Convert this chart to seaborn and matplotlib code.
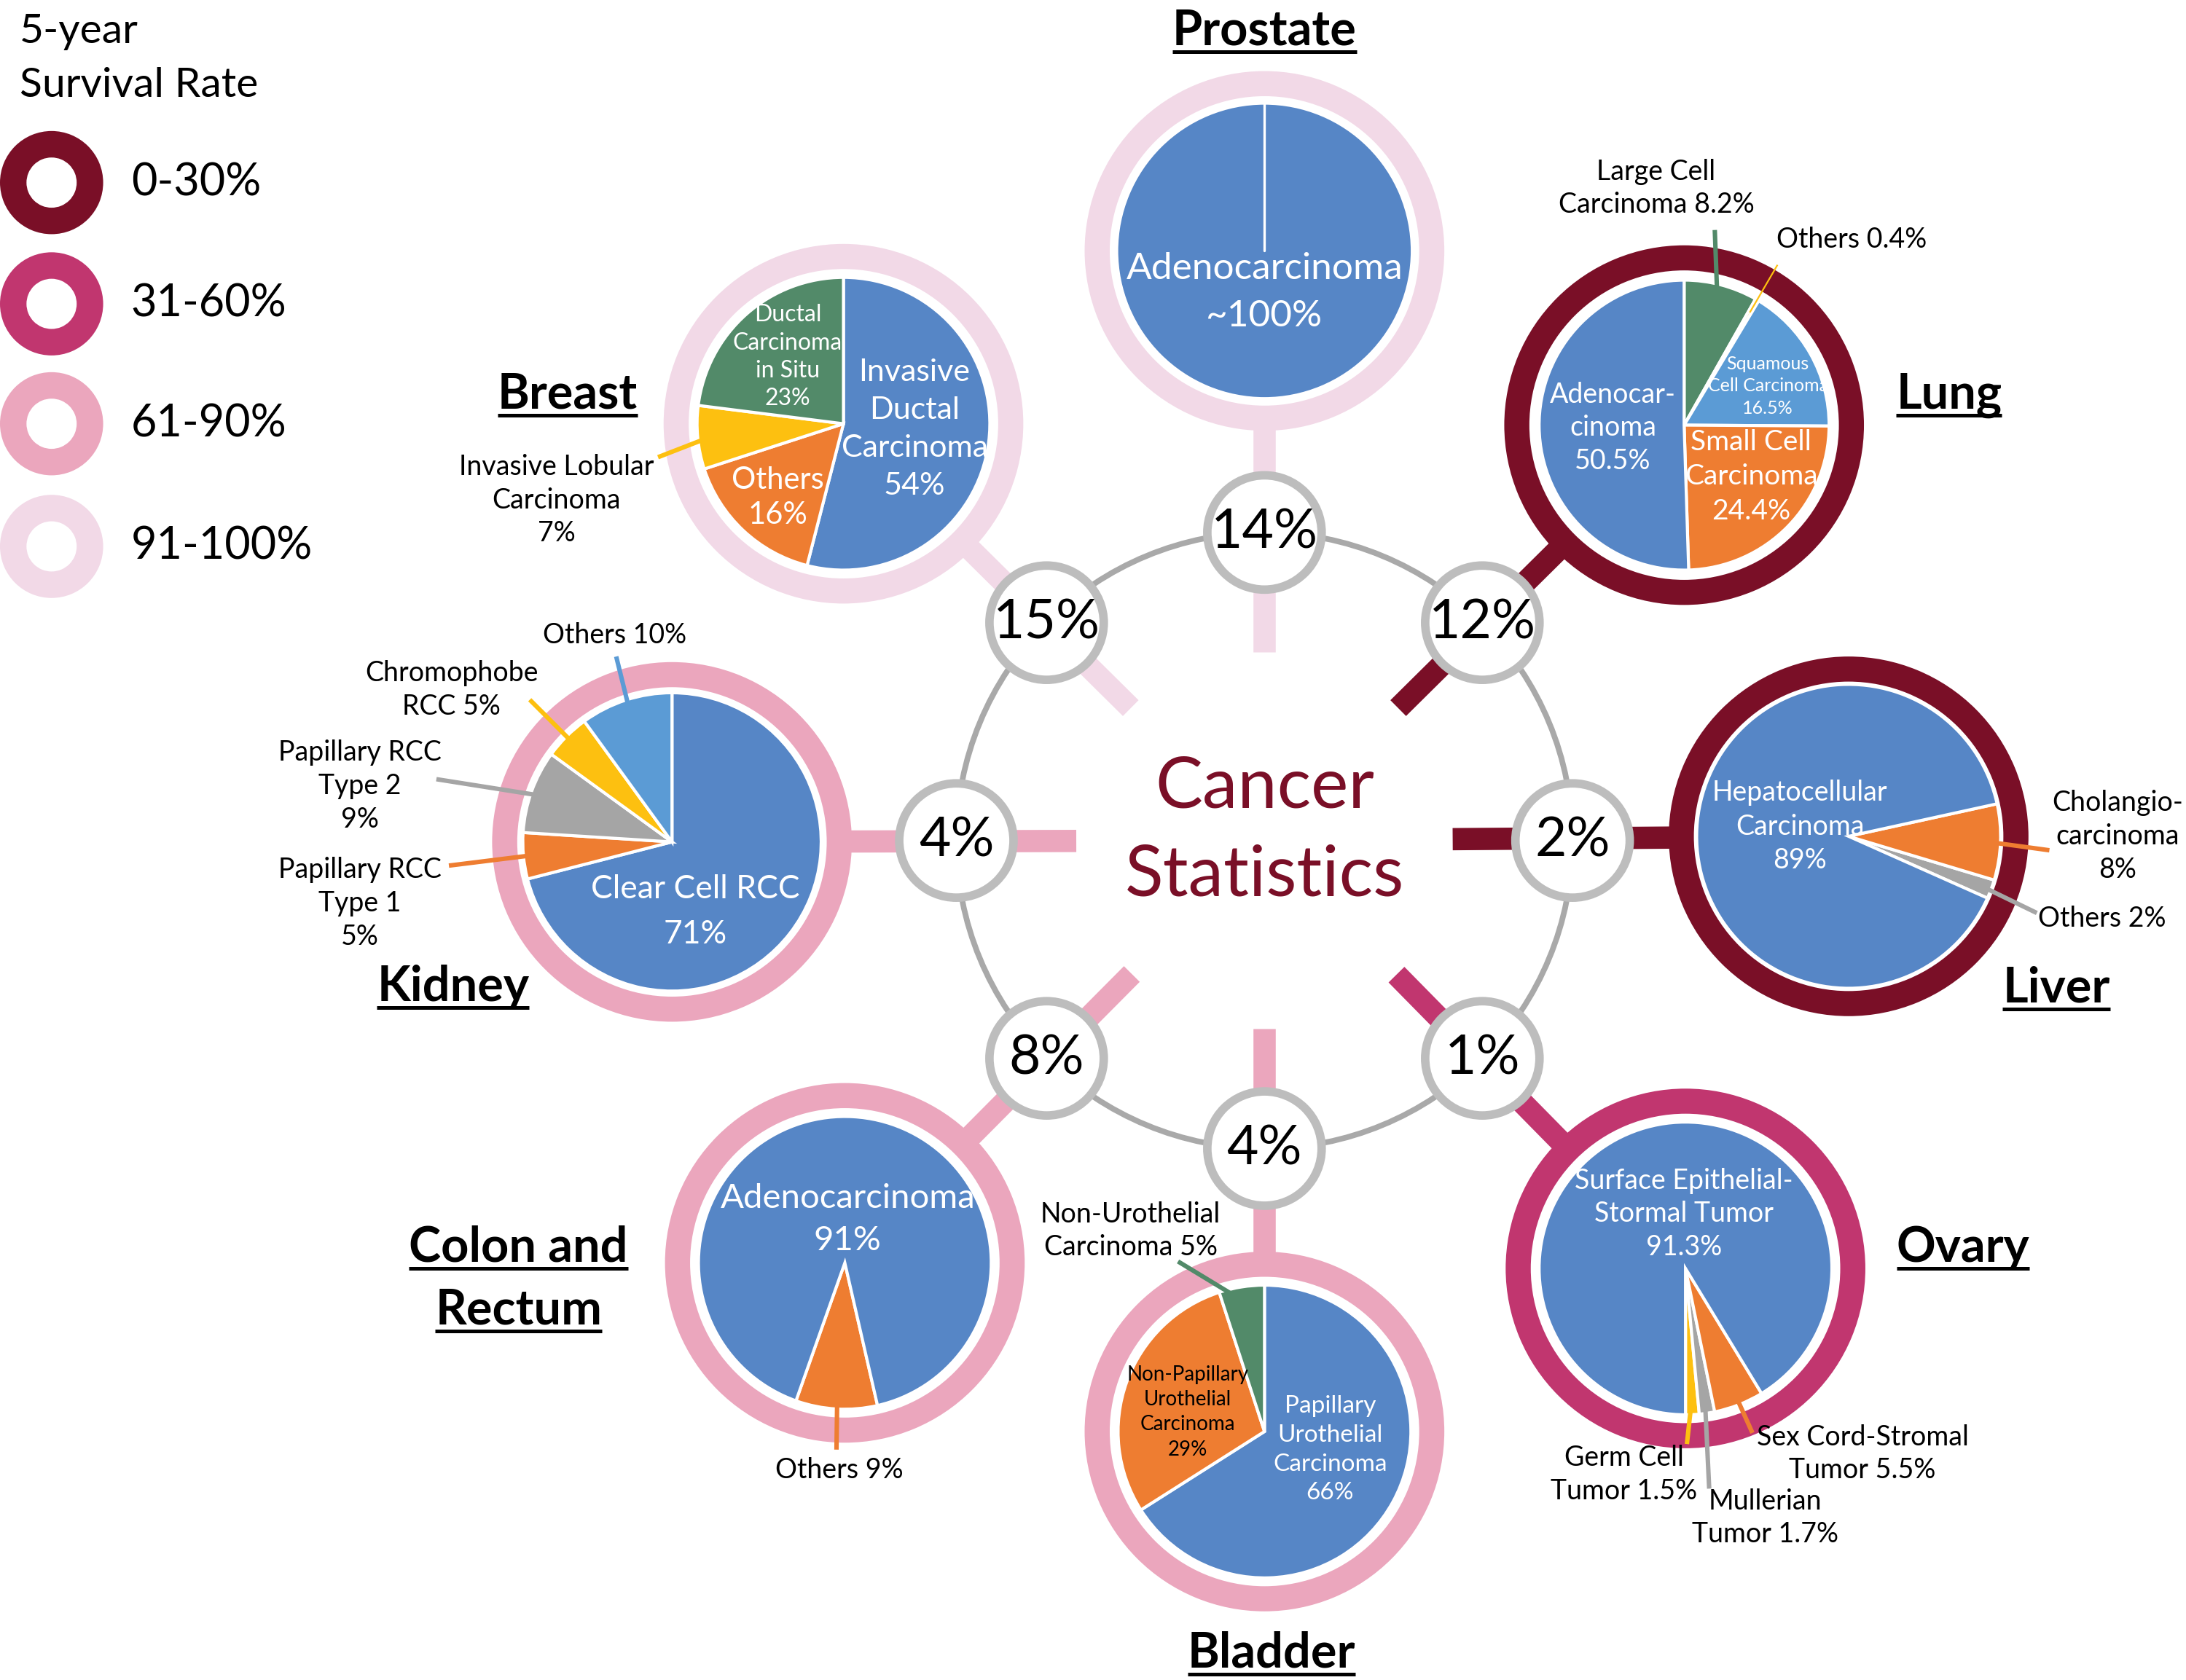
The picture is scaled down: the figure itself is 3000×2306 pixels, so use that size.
import numpy as np
import matplotlib.pyplot as plt
import seaborn as sns

sns.set_theme(style='white')
plt.rcParams['font.family'] = ['Lato', 'DejaVu Sans']
plt.rcParams['text.color'] = 'black'

# working canvas in reference pixels (half size of the output)
W = 1568
H = W * 2306 / 3000

# ---------------- data ----------------
band_labels = ['0-30%', '31-60%', '61-90%', '91-100%']
band_colors = ['#7a0f27', '#c1366f', '#eba6bd', '#f2d9e7']

organs = ['Prostate', 'Lung', 'Liver', 'Ovary', 'Bladder', 'Colon and\nRectum', 'Kidney', 'Breast']
share = ['14%', '12%', '2%', '1%', '4%', '8%', '4%', '15%']
survival_band = [3, 0, 0, 1, 2, 2, 2, 3]

prostate_labels = ['Adenocarcinoma\n~100%']
prostate_vals = [100]

lung_labels = ['Large Cell\nCarcinoma 8.2%', 'Others 0.4%', 'Squamous\nCell Carcinoma\n16.5%',
               'Small Cell\nCarcinoma\n24.4%', 'Adenocar-\ncinoma\n50.5%']
lung_vals = [8.2, 0.4, 16.5, 24.4, 50.5]

liver_labels = ['Others 2%', 'Cholangio-\ncarcinoma\n8%', 'Hepatocellular\nCarcinoma\n89%']
liver_vals = [2, 8, 89]

ovary_labels = ['Germ Cell\nTumor 1.5%', 'Mullerian\nTumor 1.7%', 'Sex Cord-Stromal\nTumor 5.5%',
                'Surface Epithelial-\nStormal Tumor\n91.3%']
ovary_vals = [1.5, 1.7, 5.5, 91.3]

bladder_labels = ['Papillary\nUrothelial\nCarcinoma\n66%', 'Non-Papillary\nUrothelial\nCarcinoma\n29%',
                  'Non-Urothelial\nCarcinoma 5%']
bladder_vals = [66, 29, 5]

colon_labels = ['Others 9%', 'Adenocarcinoma\n91%']
colon_vals = [9, 91]

kidney_labels = ['Clear Cell RCC\n71%', 'Papillary RCC\nType 1\n5%', 'Papillary RCC\nType 2\n9%',
                 'Chromophobe\nRCC 5%', 'Others 10%']
kidney_vals = [71, 5, 9, 5, 10]

breast_labels = ['Invasive\nDuctal\nCarcinoma\n54%', 'Others\n16%', 'Invasive Lobular\nCarcinoma\n7%',
                 'Ductal\nCarcinoma\nin Situ\n23%']
breast_vals = [54, 16, 7, 23]

# ---------------- style / layout ----------------
BLUE, LBLUE, ORANGE = '#5686c6', '#5b9bd5', '#ee7d31'
GRAY, GOLD, GREEN = '#a5a5a5', '#fdc010', '#528a69'
TITLE_RED = '#7a0f27'

hub = (907, 603)
hub_r = 221
ring_out, ring_w = 129, 18

# per organ: pie centre, radius, start angle, direction, slice colours, explode,
# and per slice label (x, y, fontsize, colour, leader tail, line spacing)
layout = {
    'Prostate': dict(center=(907, 180), r=106, start=90, ccw=False, colors=[BLUE], explode=None,
                     labels=prostate_labels, vals=prostate_vals,
                     text=[(907, 210, 18.5, 'white', None, 1.52)]),
    'Lung': dict(center=(1208, 305), r=104, start=90, ccw=False,
                 colors=[GREEN, GOLD, LBLUE, ORANGE, BLUE], explode=[0.03, 0, 0, 0, 0],
                 labels=lung_labels, vals=lung_vals,
                 text=[(1188, 135, 13.5, 'black', (1230, 165), 1.33),
                       (1328, 172, 13.5, 'black', (1275, 190), 1.33),
                       (1268, 277, 9, 'white', None, 1.4),
                       (1256, 342, 14, 'white', None, 1.39),
                       (1157, 307, 13.5, 'white', None, 1.33)]),
    'Liver': dict(center=(1326, 600), r=109, start=-24, ccw=True, colors=[GRAY, ORANGE, BLUE],
                  explode=[0, 0.03, 0],
                  labels=liver_labels, vals=liver_vals,
                  text=[(1508, 659, 13.5, 'black', (1461, 655), 1.35),
                        (1519, 600, 13.5, 'black', (1470, 610), 1.36),
                        (1291, 593, 13.5, 'white', None, 1.36)]),
    'Ovary': dict(center=(1209, 910), r=105, start=-90, ccw=True, colors=[GOLD, GRAY, ORANGE, BLUE],
                  explode=None,
                  labels=ovary_labels, vals=ovary_vals,
                  text=[(1165, 1058, 13.5, 'black', (1210, 1036), 1.33),
                        (1266, 1089, 13.5, 'black', (1226, 1068), 1.33),
                        (1336, 1043, 13.5, 'black', (1257, 1028), 1.33),
                        (1208, 871, 13.5, 'white', None, 1.33)]),
    'Bladder': dict(center=(907, 1027), r=105, start=90, ccw=False, colors=[BLUE, ORANGE, GREEN],
                    explode=[0.025, 0, 0],
                    labels=bladder_labels, vals=bladder_vals,
                    text=[(954, 1040, 12, 'white', None, 1.4),
                          (852, 1013, 10, 'black', None, 1.4),
                          (811, 883, 13.5, 'black', (845, 905), 1.33)]),
    'Colon and\nRectum': dict(center=(606, 906), r=105, start=-109.5, ccw=True, colors=[ORANGE, BLUE],
                              explode=None,
                              labels=colon_labels, vals=colon_vals,
                              text=[(602, 1055, 13.5, 'black', (600, 1040), 1.33),
                                    (608, 875, 17, 'white', None, 1.45)]),
    'Kidney': dict(center=(482, 604), r=107, start=90, ccw=False, colors=[BLUE, ORANGE, GRAY, GOLD, LBLUE],
                   explode=[0.03, 0, 0, 0, 0],
                   labels=kidney_labels, vals=kidney_vals,
                   text=[(499, 654, 16, 'white', None, 1.65),
                         (258, 648, 13.5, 'black', (322, 621), 1.35),
                         (258, 564, 13.5, 'black', (313, 559), 1.35),
                         (324, 495, 13.5, 'black', (380, 502), 1.35),
                         (441, 456, 13.5, 'black', (442, 471), 1.35)]),
    'Breast': dict(center=(605, 304), r=105, start=90, ccw=False, colors=[BLUE, ORANGE, GOLD, GREEN],
                   explode=None,
                   labels=breast_labels, vals=breast_vals,
                   text=[(656, 308, 15.5, 'white', None, 1.45),
                         (558, 357, 15, 'white', None, 1.32),
                         (399, 359, 13.5, 'black', (472, 328), 1.33),
                         (565, 256, 11.5, 'white', None, 1.35)]),
}

name_pos = {'Prostate': [(907, 32)], 'Lung': [(1398, 293)], 'Liver': [(1475, 719)],
            'Ovary': [(1408, 905)], 'Bladder': [(912, 1196)],
            'Colon and\nRectum': [(372, 905), (372, 950)],
            'Kidney': [(325, 718)], 'Breast': [(407, 293)]}


def P(x, y):
    return (x, H - y)


def boundaries(vals, start, ccw):
    frac = np.asarray(vals, float) / np.sum(vals)
    cum = np.concatenate([[0], np.cumsum(frac)])
    return start + (1 if ccw else -1) * 360 * cum


fig = plt.figure(figsize=(15, 11.53), dpi=200)
ax = fig.add_axes([0, 0, 1, 1])

# central ring, spokes and share bubbles
hx, hy = P(*hub)
ax.add_patch(plt.Circle((hx, hy), hub_r, fill=False, ec='#a9a9a9', lw=2.8, zorder=2))
ax.text(*P(907, 597), 'Cancer\nStatistics', ha='center', va='center', fontsize=35,
        color=TITLE_RED, linespacing=1.47, zorder=6)

for i, organ in enumerate(organs):
    cfg = layout[organ]
    cx, cy = P(*cfg['center'])
    pr = cfg['r']
    col = band_colors[survival_band[i]]
    d = np.hypot(cx - hx, cy - hy)
    u = np.array([cx - hx, cy - hy]) / d
    s0 = np.array([hx, hy]) + 135 * u
    s1 = np.array([cx, cy]) - 116 * u
    ax.plot([s0[0], s1[0]], [s0[1], s1[1]], color=col, lw=11, solid_capstyle='butt', zorder=1)

    a = np.deg2rad(90 - 45 * i)
    bx, by = hx + hub_r * np.cos(a), hy + hub_r * np.sin(a)
    ax.add_patch(plt.Circle((bx, by), 41, fc='white', ec='#bdbdbd', lw=4.2, zorder=3))
    ax.text(bx, by, share[i], ha='center', va='center', fontsize=27, zorder=4)

    # survival ring + subtype pie
    ax.pie([1], radius=ring_out, center=(cx, cy), colors=[col], frame=True,
           wedgeprops=dict(width=ring_w, lw=0, zorder=2))
    ax.pie(cfg['vals'], radius=pr, center=(cx, cy), colors=cfg['colors'],
           startangle=cfg['start'], counterclock=cfg['ccw'], explode=cfg['explode'], frame=True,
           wedgeprops=dict(edgecolor='white', lw=1.5, zorder=3))
    if len(cfg['vals']) == 1:
        ax.plot([cx, cx], [cy, cy + pr], color='white', lw=1.2, zorder=4)

    b = boundaries(cfg['vals'], cfg['start'], cfg['ccw'])
    for j, (lab, spec) in enumerate(zip(cfg['labels'], cfg['text'])):
        tx, ty, fs, tc, tail, ls = spec
        ax.text(*P(tx, ty), lab, ha='center', va='center', fontsize=fs, color=tc,
                linespacing=ls, zorder=7)
        if tail is not None:
            m = np.deg2rad((b[j] + b[j + 1]) / 2)
            head = (cx + 0.9 * pr * np.cos(m), cy + 0.9 * pr * np.sin(m))
            tp = P(*tail)
            ax.plot([head[0], tp[0]], [head[1], tp[1]], color=cfg['colors'][j],
                    lw=0.8 if cfg['vals'][j] < 1 else 2.2, solid_capstyle='butt', zorder=5)

# legend
ax.text(*P(14, 42), '5-year\nSurvival Rate', ha='left', va='center', fontsize=20.5, linespacing=1.55)
for k, (lab, col) in enumerate(zip(band_labels, band_colors)):
    ly = [131, 218, 304, 392][k]
    ax.pie([1], radius=37, center=P(37, ly), colors=[col], frame=True,
           wedgeprops=dict(width=19, lw=0))
    ax.text(*P(94, ly), lab, ha='left', va='center', fontsize=22)

ax.set_xlim(0, W)
ax.set_ylim(0, H)
ax.set_aspect('auto')
ax.axis('off')

# organ names, bold and underlined
renderer = fig.canvas.get_renderer()
inv = ax.transData.inverted()
for organ in organs:
    for line, (x, y) in zip(organ.split('\n'), name_pos[organ]):
        t = ax.text(*P(x, y), line, ha='center', va='baseline', fontsize=24, fontweight='bold', zorder=6)
        bb = t.get_window_extent(renderer=renderer)
        (x0, _), (x1, _) = inv.transform([[bb.x0, bb.y0], [bb.x1, bb.y1]])
        ax.plot([x0, x1], [H - y - 5, H - y - 5], color='black', lw=1.8, solid_capstyle='butt')

fig.savefig('out.png', dpi=200, facecolor='white')
